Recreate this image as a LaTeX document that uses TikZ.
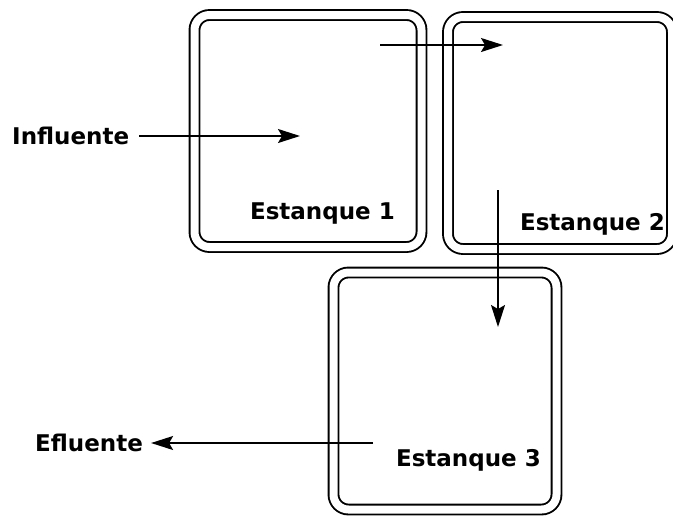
\documentclass[tikz,border=0pt]{standalone}
\usepackage{fontspec}
\setmainfont{DejaVu Sans}
\usetikzlibrary{arrows.meta}
\begin{document}
\begin{tikzpicture}[x=1pt,y=-1pt,
  tank/.style={draw,double,double distance=8pt,line width=1.9pt,rounded corners=15pt,inner sep=0pt},
  lbl/.style={font=\fontsize{23}{24}\selectfont\bfseries,inner sep=0pt},
  flow/.style={line width=1.6pt,-{Stealth[length=22pt,width=14pt,inset=4pt]}}]
\useasboundingbox (0,0) rectangle (673,515);
\node[tank,minimum width=227pt,minimum height=232pt] (t1) at (308,131) {};
\node[tank,minimum width=224pt,minimum height=232pt] (t2) at (560,133) {};
\node[tank,minimum width=223pt,minimum height=237pt] (t3) at (445,391) {};
\node[lbl,anchor=base east] (l1) at (395,219) {Estanque 1};
\node[lbl,anchor=base east] (l2) at (665,230) {Estanque 2};
\node[lbl,anchor=base east] (l3) at (541,466) {Estanque 3};
\node[lbl,anchor=base west] (inf) at (12,144) {Influente};
\node[lbl,anchor=base west] (efl) at (35,451) {Efluente};
\coordinate (a1) at (300,136);
\coordinate (b0) at (380,45);
\coordinate (b1) at (503,45);
\coordinate (c0) at (498,190);
\coordinate (c1) at (498,327);
\coordinate (d0) at (373,443);
\draw[flow] (inf.east |- a1) ++(10,0) -- (a1);
\draw[flow] (b0) -- (b1);
\draw[flow] (c0) -- (c1);
\draw[flow] (d0) -- ([xshift=8pt]efl.east |- d0);
\end{tikzpicture}
\end{document}
